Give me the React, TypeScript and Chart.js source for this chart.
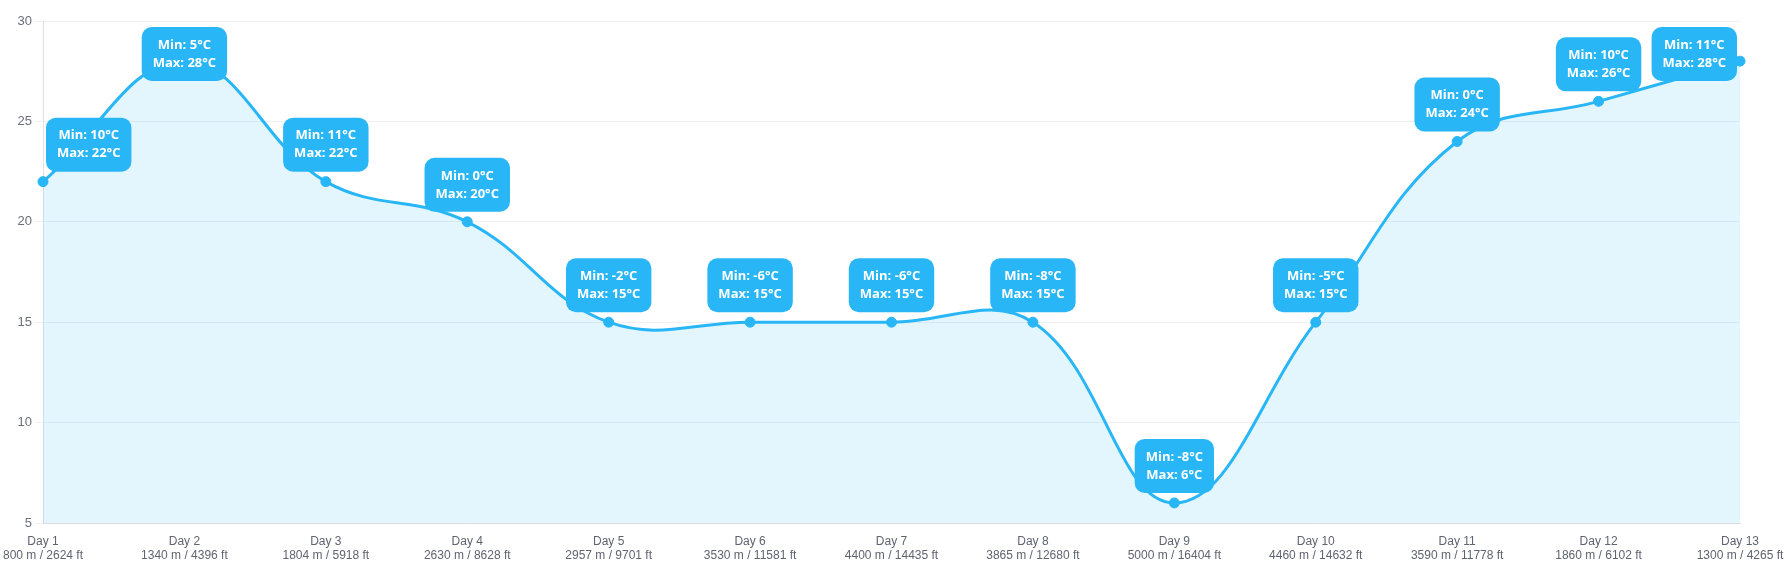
import React, { useEffect, useRef } from "react";
import { Chart, registerables } from "chart.js";

Chart.register(...registerables);

const days = ["Day 1", "Day 2", "Day 3", "Day 4", "Day 5", "Day 6", "Day 7", "Day 8", "Day 9", "Day 10", "Day 11", "Day 12", "Day 13"];
const elevations = [
  "800 m / 2624 ft",
  "1340 m / 4396 ft",
  "1804 m / 5918 ft",
  "2630 m / 8628 ft",
  "2957 m / 9701 ft",
  "3530 m / 11581 ft",
  "4400 m / 14435 ft",
  "3865 m / 12680 ft",
  "5000 m / 16404 ft",
  "4460 m / 14632 ft",
  "3590 m / 11778 ft",
  "1860 m / 6102 ft",
  "1300 m / 4265 ft",
];
const minTemps = [10, 5, 11, 0, -2, -6, -6, -8, -8, -5, 0, 10, 11];
const maxTemps = [22, 28, 22, 20, 15, 15, 15, 15, 6, 15, 24, 26, 28];
const yTicks = [5, 10, 15, 20, 25, 30];

const BLUE = "#29B6F6";

const labelPlugin = {
  id: "tempLabels",
  afterDatasetsDraw(chart: any) {
    const meta = chart.getDatasetMeta(0);
    const ctx = chart.ctx;
    const area = chart.chartArea;
    ctx.save();
    ctx.font = "bold 13px 'Open Sans', sans-serif";
    meta.data.forEach((pt: any, i: number) => {
      const l1 = `Min: ${minTemps[i]}°C`;
      const l2 = `Max: ${maxTemps[i]}°C`;
      const tw = Math.max(ctx.measureText(l1).width, ctx.measureText(l2).width);
      const w = tw + 22;
      const h = 54;
      let x = pt.x - w / 2;
      x = Math.max(area.left + 3, Math.min(x, area.right - 3 - w));
      let y = pt.y - 10 - h;
      y = Math.max(area.top + 6, y);
      ctx.fillStyle = BLUE;
      ctx.beginPath();
      ctx.roundRect(x, y, w, h, 10);
      ctx.fill();
      ctx.fillStyle = "#ffffff";
      ctx.textAlign = "center";
      ctx.textBaseline = "middle";
      ctx.fillText(l1, x + w / 2, y + 18);
      ctx.fillText(l2, x + w / 2, y + 36);
    });
    ctx.restore();
  },
};

export default function App() {
  const ref = useRef<HTMLCanvasElement | null>(null);
  useEffect(() => {
    if (!ref.current) return;
    const labels = days.map((d, i) => [d, elevations[i]]);
    const chart = new Chart(ref.current, {
      type: "line",
      data: {
        labels,
        datasets: [
          {
            data: maxTemps,
            borderColor: BLUE,
            backgroundColor: "rgba(41,182,246,0.13)",
            borderWidth: 3,
            pointRadius: 5,
            pointBorderWidth: 1,
            pointBackgroundColor: BLUE,
            pointBorderColor: BLUE,
            tension: 0.4,
            fill: "start",
            clip: false as any,
          },
        ],
      },
      options: {
        animation: false,
        responsive: true,
        maintainAspectRatio: false,
        layout: { padding: { top: 21, right: 47, left: 0, bottom: 0 } },
        plugins: { legend: { display: false }, tooltip: { enabled: false } },
        scales: {
          x: {
            grid: { display: false, drawTicks: false },
            border: { display: true, color: "#D9DCE3", width: 1 },
            ticks: {
              color: "#5F6470",
              font: { family: "'Liberation Sans', Arial, sans-serif", size: 12, lineHeight: 1.15 },
              padding: 12,
              maxRotation: 0,
              autoSkip: false,
            },
            afterFit: (s: any) => {
              s.height = 60;
              s.paddingLeft = 0;
              s.paddingRight = 0;
            },
          },
          y: {
            min: 5,
            max: 30,
            afterBuildTicks: (s: any) => {
              s.ticks = yTicks.map((v) => ({ value: v }));
            },
            grid: { color: "#EEF0F4", tickLength: 8, drawTicks: true },
            border: { display: true, color: "#E0E2E8" },
            ticks: {
              color: "#6B6F7A",
              font: { family: "'Liberation Sans', Arial, sans-serif", size: 13 },
              padding: 3,
            },
            afterFit: (s: any) => {
              s.width = 43;
              s.paddingTop = 0;
              s.paddingBottom = 0;
            },
          },
        },
      },
      plugins: [labelPlugin],
    });
    return () => chart.destroy();
  }, []);
  return (
    <div style={{ position: "absolute", left: 0, top: 0, width: 1787, height: 583 }}>
      <canvas ref={ref} />
    </div>
  );
}
